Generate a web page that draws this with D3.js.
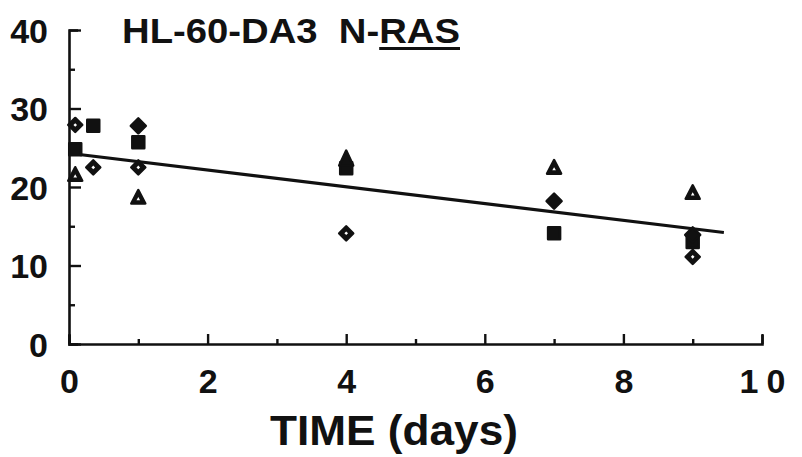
<!DOCTYPE html>
<html>
<head>
<meta charset="utf-8">
<script src="https://cdn.jsdelivr.net/npm/d3@7"></script>
<style>
  html, body { margin: 0; padding: 0; background: #fff; }
  svg { display: block; }
  text { font-family: "Liberation Sans", Arial, Helvetica, sans-serif; font-weight: bold; fill: #111; }
</style>
</head>
<body>
<svg id="chart" width="802" height="457"></svg>
<script>
// Time points (days) and per-series measurements
const openDiamond   = [[0.09, 27.9], [0.35, 22.5], [1.0, 22.5], [4.0, 14.1], [9.0, 11.1]];
const filledSquare  = [[0.09, 24.8], [0.35, 27.8], [1.0, 25.7], [4.0, 22.4], [7.0, 14.1], [9.0, 13.0]];
const filledDiamond = [[1.0, 27.8], [7.0, 18.2], [9.0, 13.9]];
const openTriangle  = [[0.09, 21.5], [1.0, 18.6], [7.0, 22.4], [9.0, 19.2]];
const filledTriangle = [[4.0, 23.5]];

// Fitted regression line
const fitStart = [0, 24.3];
const fitEnd = [9.45, 14.2];

const xTicksMajor = [0, 2, 4, 6, 8, 10];
const xTicksMinor = [1, 3, 5, 7, 9];
const yTicksMajor = [0, 10, 20, 30, 40];
const yTicksMinor = [5, 15, 25, 35];

const titleText = "HL-60-DA3  N-RAS";
const xTitle = "TIME (days)";

const svg = d3.select("#chart");
const x = d3.scaleLinear().domain([0, 10]).range([69, 762]);
const y = d3.scaleLinear().domain([0, 40]).range([344, 30]);

const ink = "#111";

// Y axis: ticks point inward, labels on the left
const yAxis = svg.append("g").attr("transform", `translate(${x(0)},0)`)
  .call(d3.axisLeft(y).tickValues(yTicksMajor).tickSizeInner(-12).tickSizeOuter(-9).tickPadding(21)
        .tickFormat(d3.format("d")));
svg.append("g").attr("transform", `translate(${x(0)},0)`)
  .call(d3.axisLeft(y).tickValues(yTicksMinor).tickSizeInner(-6).tickSizeOuter(0).tickFormat(""))
  .select(".domain").remove();

// X axis: ticks point upward, labels below
const xAxis = svg.append("g").attr("transform", `translate(0,${y(0)})`)
  .call(d3.axisBottom(x).tickValues(xTicksMajor).tickSizeInner(-10).tickSizeOuter(-9).tickPadding(25)
        .tickFormat(d3.format("d")));
svg.append("g").attr("transform", `translate(0,${y(0)})`)
  .call(d3.axisBottom(x).tickValues(xTicksMinor).tickSizeInner(-5).tickSizeOuter(0).tickFormat(""))
  .select(".domain").remove();

svg.selectAll(".domain").attr("stroke", ink).attr("stroke-width", 2.6);
svg.selectAll(".tick line").attr("stroke", ink).attr("stroke-width", 2.4);
svg.selectAll(".tick text").attr("fill", ink).style("font-size", "34px")
  .style("font-family", '"Liberation Sans", Arial, sans-serif').style("font-weight", "bold");
xAxis.selectAll(".tick text").filter(d => d === 10)
  .style("letter-spacing", "8px").attr("dx", "4px");
yAxis.selectAll(".tick text").attr("dy", "0.36em");

// Regression line
svg.append("line")
  .attr("x1", x(fitStart[0])).attr("y1", y(fitStart[1]))
  .attr("x2", x(fitEnd[0])).attr("y2", y(fitEnd[1]))
  .attr("stroke", ink).attr("stroke-width", 3.2);

// Marker shapes
function diamondPath(r) { return `M0,${-r}L${r},0L0,${r}L${-r},0Z`; }
function squarePath(h) { return `M${-h},${-h}H${h}V${h}H${-h}Z`; }
function trianglePath(w, hTop, hBot) { return `M0,${-hTop}L${w},${hBot}L${-w},${hBot}Z`; }

function plot(data, outer, inner) {
  const g = svg.append("g");
  const pts = g.selectAll("g").data(data).join("g")
    .attr("transform", d => `translate(${x(d[0])},${y(d[1])})`);
  pts.append("path").attr("d", outer)
    .attr("fill", ink).attr("stroke", ink).attr("stroke-width", 2.5).attr("stroke-linejoin", "round");
  if (inner) pts.append("path").attr("d", inner).attr("fill", "#fff");
}

plot(filledSquare, squarePath(6));
plot(filledDiamond, diamondPath(7.5));
plot(openDiamond, diamondPath(7), diamondPath(1.8));
plot(openTriangle, trianglePath(7, 8, 5.5), trianglePath(1.8, 1.0, 2.2));
plot(filledTriangle, trianglePath(7, 9, 6));

// Title with underlined gene name
const title = svg.append("text")
  .attr("x", 122).attr("y", 43)
  .style("font-size", "35px").style("white-space", "pre")
  .attr("textLength", 338).attr("lengthAdjust", "spacingAndGlyphs")
  .text(titleText);

// X axis title
svg.append("text")
  .attr("x", 270).attr("y", 445)
  .style("font-size", "42px")
  .attr("textLength", 248).attr("lengthAdjust", "spacingAndGlyphs")
  .text(xTitle);

const tNode = title.node();
const nChars = tNode.getNumberOfChars();
const rIdx = nChars - 3;
const uStart = tNode.getStartPositionOfChar(rIdx).x;
const uEnd = tNode.getEndPositionOfChar(nChars - 1).x;
svg.append("line")
  .attr("x1", uStart).attr("x2", uEnd).attr("y1", 48.5).attr("y2", 48.5)
  .attr("stroke", ink).attr("stroke-width", 3);
</script>
</body>
</html>
